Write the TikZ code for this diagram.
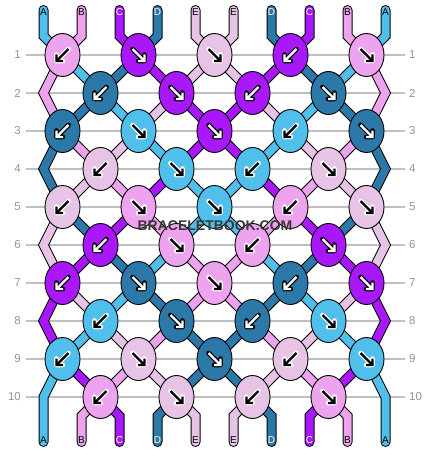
\documentclass[tikz,border=0pt]{standalone}
\usepackage{fontspec}
\setmainfont{Liberation Sans}
\usepackage{tikz}
\usetikzlibrary{shapes.geometric, backgrounds}

\definecolor{threadA}{HTML}{51BFEB}
\definecolor{threadB}{HTML}{EDA3EE}
\definecolor{threadC}{HTML}{A818FA}
\definecolor{threadD}{HTML}{2C78A8}
\definecolor{threadE}{HTML}{E7C4E6}
\colorlet{tipA}{black}\colorlet{tipB}{black}\colorlet{tipC}{white}\colorlet{tipD}{white}\colorlet{tipE}{black}
\colorlet{haloA}{white}\colorlet{haloB}{white}\colorlet{haloC}{black}\colorlet{haloD}{black}\colorlet{haloE}{white}

\begin{document}
\begin{tikzpicture}[x=1pt, y=-1pt,
    knot/.style={draw, ellipse, line width=0.9pt, minimum width=35pt, minimum height=43pt, inner sep=0pt, fill=thread#1},
    thread/.style={draw=black, line width=1pt, double=thread#1, double distance=8pt, line cap=round, line join=miter},
    gridline/.style={draw=black!25, line width=1.3pt},
    rowlabel/.style={text=black!42, font=\fontsize{11.5}{12}\selectfont, inner sep=0pt},
    endlabel/.style={text=tip#1, font=\fontsize{10}{10}\selectfont, inner sep=0pt},
    pics/tip/.style={code={
        \draw[draw=halo#1, line width=4.6pt, line cap=round, line join=round] (-6,-6) -- (5.5,5.5) (-0.5,6) -- (6,6) -- (6,-0.5);
        \draw[draw=tip#1, line width=2.4pt, line join=miter] (-6,-6) -- (5.5,5.5) (-0.5,6) -- (6,6) -- (6,-0.5);
    }}]
    \useasboundingbox (0,0) rectangle (430,452);

    \foreach \p in {0,...,9} {
        \coordinate (top-\p) at (43.5+38*\p, 10);
        \coordinate (topbend-\p) at (43.5+38*\p, 36);
        \coordinate (botbend-\p) at (43.5+38*\p, 416);
        \coordinate (bot-\p) at (43.5+38*\p, 442);
    }
    \foreach \r in {2,4,...,10} {
        \coordinate (sl-\r) at (43.5, 55+38*\r-38);
        \coordinate (sr-\r) at (385.5, 55+38*\r-38);
    }

    % knots, -1 = left, 1 = right
    \foreach \r/\row in {
        1/{B/-1,C/1,E/1,C/-1,B/1},
        2/{D/-1,C/1,C/-1,D/1},
        3/{D/-1,A/1,C/1,A/-1,D/1},
        4/{E/-1,A/1,A/-1,E/1},
        5/{E/-1,B/1,A/1,B/-1,E/1},
        6/{C/-1,B/1,B/-1,C/1},
        7/{C/-1,D/1,B/1,D/-1,C/1},
        8/{A/-1,D/1,D/-1,A/1},
        9/{A/-1,E/1,D/1,E/-1,A/1},
        10/{B/-1,E/1,E/-1,B/1}} {
        \pgfmathsetmacro\y{55+38*(\r-1)}
        \pgfmathsetmacro\xo{isodd(\r) ? 62.5 : 100.5}
        \foreach \c/\t [count=\j from 0] in \row {
            \node[knot=\c] (k-\r-\j) at (\xo+76*\j, \y) {};
            \pic[xscale=\t] at (k-\r-\j) {tip=\c};
        }
    }

    \foreach \c [count=\p from 0] in {A,B,C,D,E,E,D,C,B,A} {
        \node[endlabel=\c] (tl-\p) at (43.5+38*\p, 12.5) {\c};
        \node[endlabel=\c] (bl-\p) at (43.5+38*\p, 440) {\c};
    }

    \node[font=\bfseries\fontsize{14}{14}\selectfont, text=black!78, inner sep=0pt] (mark) at (215,226) {BRACELETBOOK.COM};

    \begin{pgfonlayer}{background}
        \foreach \r in {1,...,10} {
            \pgfmathsetmacro\y{55+38*(\r-1)}
            \draw[gridline] (26,\y) -- (405,\y);
            \node[rowlabel, anchor=east] (ll-\r) at (21,\y) {\r};
            \node[rowlabel, anchor=west] (lr-\r) at (409,\y) {\r};
        }

        \foreach \c [count=\p from 0] in {A,B,C,D,E,E,D,C,B,A} {
            \pgfmathtruncatemacro\j{\p/2}
            \draw[thread=\c] (top-\p) -- (topbend-\p) -- (k-1-\j.center);
        }

        \foreach \r/\s in {
            1/{B,A,D,C,E,E,C,D,A,B},
            2/{B,D,A,E,C,C,E,A,D,B},
            3/{D,B,E,A,C,C,A,E,B,D},
            4/{D,E,B,C,A,A,C,B,E,D},
            5/{E,D,C,B,A,A,B,C,D,E},
            6/{E,C,D,A,B,B,A,D,C,E},
            7/{C,E,A,D,B,B,D,A,E,C},
            8/{C,A,E,B,D,D,B,E,A,C},
            9/{A,C,B,E,D,D,E,B,C,A}} {
            \pgfmathtruncatemacro\n{\r+1}
            \pgfmathtruncatemacro\nn{\r+2}
            \ifnum\r=9\relax \def\el{bot-0}\def\er{bot-9}\else \edef\el{k-\nn-0}\edef\er{k-\nn-4}\fi
            \foreach \c [count=\p from 0] in \s {
                \pgfmathtruncatemacro\ja{\p/2}
                \pgfmathtruncatemacro\jb{max(\p-1,0)/2}
                \ifnum\p=0\relax
                    \ifodd\r\relax \draw[thread=\c] (k-\r-0.center) -- (sl-\n) -- (\el.center); \fi
                \else\ifnum\p=9\relax
                    \ifodd\r\relax \draw[thread=\c] (k-\r-4.center) -- (sr-\n) -- (\er.center); \fi
                \else
                    \ifodd\r\relax
                        \draw[thread=\c] (k-\r-\ja.center) -- (k-\n-\jb.center);
                    \else
                        \draw[thread=\c] (k-\r-\jb.center) -- (k-\n-\ja.center);
                    \fi
                \fi\fi
            }
        }

        \foreach \c [count=\p from 0] in {A,B,C,D,E,E,D,C,B,A} {
            \ifnum\p>0\relax\ifnum\p<9\relax
                \pgfmathtruncatemacro\jb{(\p-1)/2}
                \draw[thread=\c] (k-10-\jb.center) -- (botbend-\p) -- (bot-\p);
            \fi\fi
        }
    \end{pgfonlayer}
\end{tikzpicture}
\end{document}
